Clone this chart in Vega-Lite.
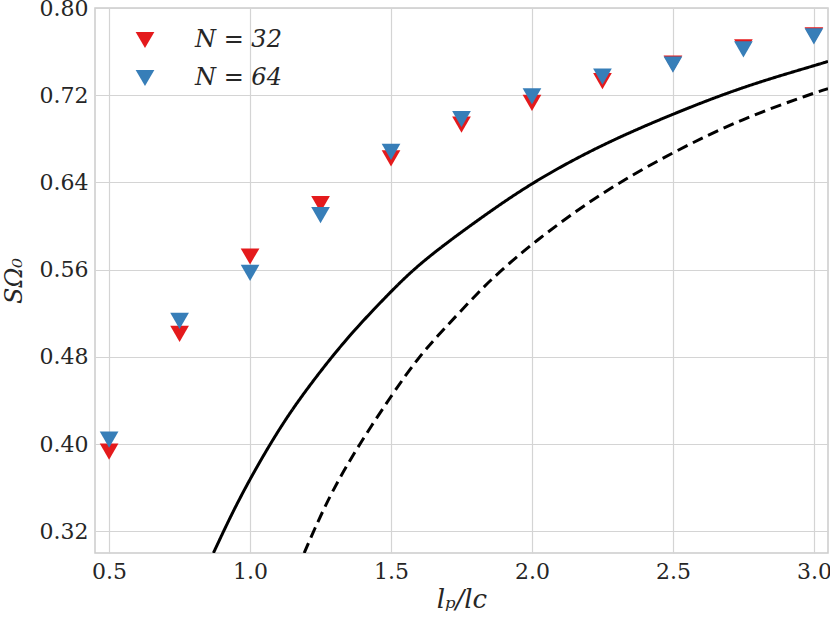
{
  "$schema": "https://vega.github.io/schema/vega-lite/v6.json",
  "width": 733,
  "height": 545,
  "autosize": "none",
  "padding": {"left": 95, "top": 8, "right": 2, "bottom": 67},
  "background": "white",
  "config": {
    "font": "DejaVu Serif",
    "view": {"stroke": "#cccccc", "strokeWidth": 1.5},
    "axis": {
      "grid": true,
      "gridColor": "#d4d4d4",
      "gridWidth": 1.2,
      "domain": false,
      "ticks": false,
      "labelFont": "DejaVu Serif",
      "labelFontSize": 22,
      "labelColor": "#262626",
      "titleFont": "DejaVu Serif",
      "titleFontWeight": "normal",
      "titleFontStyle": "italic",
      "titleColor": "#262626"
    }
  },
  "datasets": {
    "points": [
      {"ratio": 0.5, "S": 0.393, "N": "N = 32"},
      {"ratio": 0.75, "S": 0.501, "N": "N = 32"},
      {"ratio": 1.0, "S": 0.572, "N": "N = 32"},
      {"ratio": 1.25, "S": 0.620, "N": "N = 32"},
      {"ratio": 1.5, "S": 0.662, "N": "N = 32"},
      {"ratio": 1.75, "S": 0.693, "N": "N = 32"},
      {"ratio": 2.0, "S": 0.713, "N": "N = 32"},
      {"ratio": 2.25, "S": 0.733, "N": "N = 32"},
      {"ratio": 2.5, "S": 0.749, "N": "N = 32"},
      {"ratio": 2.75, "S": 0.764, "N": "N = 32"},
      {"ratio": 3.0, "S": 0.775, "N": "N = 32"},
      {"ratio": 0.5, "S": 0.404, "N": "N = 64"},
      {"ratio": 0.75, "S": 0.513, "N": "N = 64"},
      {"ratio": 1.0, "S": 0.557, "N": "N = 64"},
      {"ratio": 1.25, "S": 0.610, "N": "N = 64"},
      {"ratio": 1.5, "S": 0.668, "N": "N = 64"},
      {"ratio": 1.75, "S": 0.698, "N": "N = 64"},
      {"ratio": 2.0, "S": 0.719, "N": "N = 64"},
      {"ratio": 2.25, "S": 0.737, "N": "N = 64"},
      {"ratio": 2.5, "S": 0.748, "N": "N = 64"},
      {"ratio": 2.75, "S": 0.762, "N": "N = 64"},
      {"ratio": 3.0, "S": 0.774, "N": "N = 64"}
    ],
    "curves": [
      {"ratio": 0.870, "S": 0.300, "curve": "solid"},
      {"ratio": 0.935, "S": 0.336, "curve": "solid"},
      {"ratio": 1.000, "S": 0.368, "curve": "solid"},
      {"ratio": 1.071, "S": 0.400, "curve": "solid"},
      {"ratio": 1.142, "S": 0.429, "curve": "solid"},
      {"ratio": 1.215, "S": 0.455, "curve": "solid"},
      {"ratio": 1.290, "S": 0.480, "curve": "solid"},
      {"ratio": 1.378, "S": 0.507, "curve": "solid"},
      {"ratio": 1.500, "S": 0.540, "curve": "solid"},
      {"ratio": 1.579, "S": 0.560, "curve": "solid"},
      {"ratio": 1.674, "S": 0.580, "curve": "solid"},
      {"ratio": 1.816, "S": 0.607, "curve": "solid"},
      {"ratio": 2.000, "S": 0.640, "curve": "solid"},
      {"ratio": 2.241, "S": 0.674, "curve": "solid"},
      {"ratio": 2.500, "S": 0.703, "curve": "solid"},
      {"ratio": 2.750, "S": 0.728, "curve": "solid"},
      {"ratio": 3.000, "S": 0.747, "curve": "solid"},
      {"ratio": 3.050, "S": 0.751, "curve": "solid"},
      {"ratio": 1.192, "S": 0.300, "curve": "dashed"},
      {"ratio": 1.225, "S": 0.320, "curve": "dashed"},
      {"ratio": 1.295, "S": 0.359, "curve": "dashed"},
      {"ratio": 1.388, "S": 0.400, "curve": "dashed"},
      {"ratio": 1.500, "S": 0.444, "curve": "dashed"},
      {"ratio": 1.598, "S": 0.480, "curve": "dashed"},
      {"ratio": 1.686, "S": 0.505, "curve": "dashed"},
      {"ratio": 1.816, "S": 0.541, "curve": "dashed"},
      {"ratio": 1.881, "S": 0.557, "curve": "dashed"},
      {"ratio": 2.000, "S": 0.584, "curve": "dashed"},
      {"ratio": 2.241, "S": 0.630, "curve": "dashed"},
      {"ratio": 2.500, "S": 0.668, "curve": "dashed"},
      {"ratio": 2.750, "S": 0.699, "curve": "dashed"},
      {"ratio": 3.000, "S": 0.722, "curve": "dashed"},
      {"ratio": 3.050, "S": 0.726, "curve": "dashed"}
    ]
  },
  "encoding": {
    "x": {
      "field": "ratio",
      "type": "quantitative",
      "scale": {"domain": [0.45, 3.05], "nice": false, "zero": false},
      "axis": {
        "title": "lₚ/lc",
        "titleFontSize": 26,
        "titlePadding": 4,
        "values": [0.5, 1.0, 1.5, 2.0, 2.5, 3.0],
        "format": ".1f",
        "labelPadding": 8
      }
    },
    "y": {
      "field": "S",
      "type": "quantitative",
      "scale": {"domain": [0.3, 0.8], "nice": false, "zero": false},
      "axis": {
        "title": "SΩ₀",
        "titleFontSize": 24,
        "titlePadding": 13,
        "values": [0.32, 0.40, 0.48, 0.56, 0.64, 0.72, 0.80],
        "format": ".2f",
        "labelPadding": 7
      }
    }
  },
  "layer": [
    {
      "data": {"name": "curves"},
      "mark": {"type": "line", "color": "black", "strokeWidth": 3, "interpolate": "basis", "clip": true},
      "encoding": {
        "detail": {"field": "curve"},
        "strokeDash": {
          "field": "curve",
          "type": "nominal",
          "scale": {"domain": ["solid", "dashed"], "range": [[1, 0], [11, 6]]},
          "legend": null
        }
      }
    },
    {
      "data": {"name": "points"},
      "mark": {"type": "point", "shape": "triangle-down", "filled": true, "opacity": 1, "size": 350},
      "encoding": {
        "color": {
          "field": "N",
          "type": "nominal",
          "scale": {"domain": ["N = 32", "N = 64"], "range": ["#e41a1c", "#377eb8"]},
          "legend": {
            "title": null,
            "orient": "none",
            "legendX": 38,
            "legendY": 20,
            "symbolType": "triangle-down",
            "symbolSize": 350,
            "symbolStrokeWidth": 0,
            "symbolOpacity": 1,
            "labelFont": "DejaVu Serif",
            "labelFontSize": 24,
            "labelFontStyle": "italic",
            "labelColor": "#262626",
            "labelOffset": 38,
            "rowPadding": 14
          }
        }
      }
    }
  ]
}
